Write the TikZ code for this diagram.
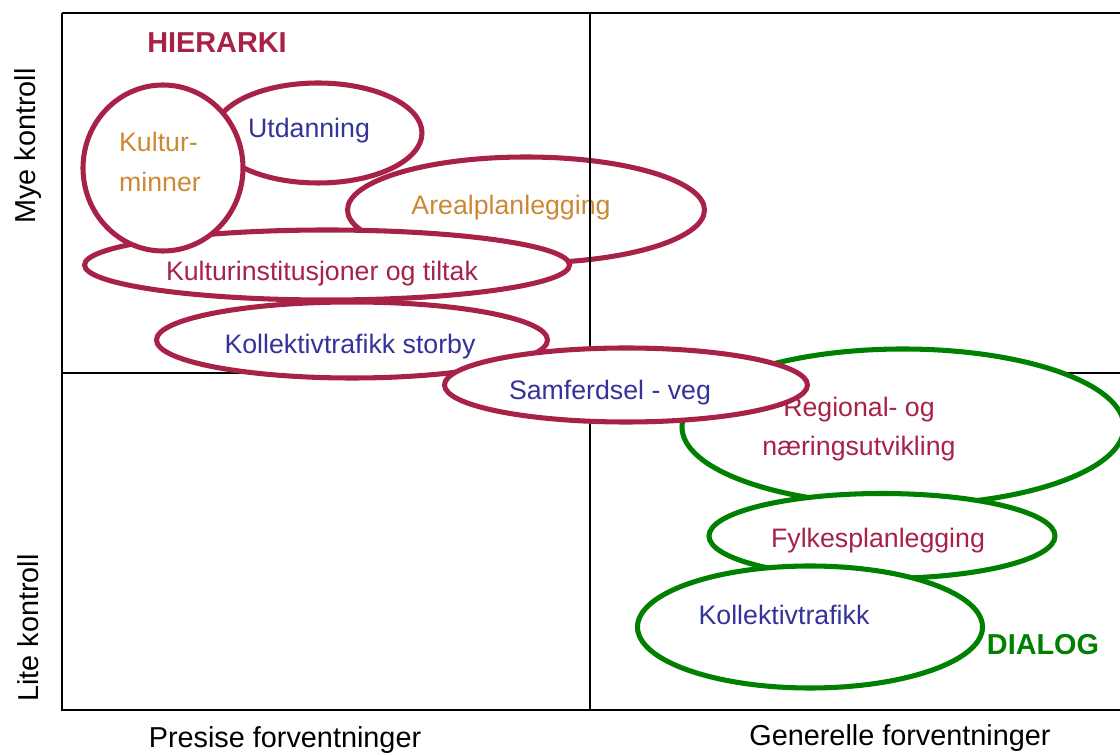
\documentclass[tikz,border=0pt]{standalone}
\usepackage{fontspec}
\setmainfont{Liberation Sans}
\usetikzlibrary{shapes.geometric}

\definecolor{hier}{RGB}{168,34,72}
\definecolor{dial}{RGB}{0,128,0}
\definecolor{blaa}{RGB}{51,51,153}
\definecolor{oransje}{RGB}{204,136,51}
\newcommand{\px}{0.025cm}

\tikzset{
  felt/.style={ellipse, draw, fill=white, line width=3.6pt, inner sep=0pt},
  hfelt/.style={felt, draw=hier},
  dfelt/.style={felt, draw=dial},
  etikett/.style={font=\fontsize{19}{28}\selectfont, inner sep=0pt},
  akse/.style={font=\fontsize{20.5}{24}\selectfont, inner sep=0pt},
  tittel/.style={font=\fontsize{20.5}{24}\selectfont\bfseries, inner sep=0pt},
}

\begin{document}
\begin{tikzpicture}[x=0.025cm, y=-0.025cm]
    \useasboundingbox (0,0) rectangle (1120,753);
    % arealplanlegging ligger under rutenettet
    \node[hfelt, minimum width=357*\px, minimum height=106*\px] (areal) at (526,210) {};
    \node[etikett, text=oransje] (arealtxt) at (511,208) {Arealplanlegging};
    % rutenett
    \draw[line width=2pt] (62,13) -- (1120,13) (62,13) -- (62,710) -- (1120,710)
        (590,13) -- (590,710) (62,373) -- (1120,373);
    % hierarki
    \node[hfelt, minimum width=208*\px, minimum height=100*\px] (utd) at (318,133) {};
    \node[etikett, text=blaa] (utdtxt) at (309,131) {Utdanning};
    \node[hfelt, minimum width=485*\px, minimum height=70*\px] (kinst) at (327,265) {};
    \node[etikett, text=hier] (kinsttxt) at (322,274) {Kulturinstitusjoner og tiltak};
    \node[hfelt, minimum width=160*\px, minimum height=166*\px] (kmin) at (163,168) {};
    \node[etikett, text=oransje, align=left] (kmintxt) at (160,162) {Kultur-\\minner};
    \node[hfelt, minimum width=391*\px, minimum height=76*\px] (storby) at (352,340) {};
    \node[etikett, text=blaa] (storbytxt) at (350,347) {Kollektivtrafikk storby};
    % dialog
    \node[dfelt, minimum width=442*\px, minimum height=156*\px] (reg) at (903,427) {};
    \node[etikett, text=hier, align=center] (regtxt) at (859,429) {Regional- og\\næringsutvikling};
    \node[hfelt, minimum width=363*\px, minimum height=74*\px] (veg) at (626,385) {};
    \node[etikett, text=blaa] (vegtxt) at (610,393) {Samferdsel - veg};
    \node[dfelt, minimum width=346*\px, minimum height=85*\px] (fylke) at (882,536) {};
    \node[etikett, text=hier] (fylketxt) at (878,541) {Fylkesplanlegging};
    \node[dfelt, minimum width=345*\px, minimum height=122*\px] (koll) at (810,627) {};
    \node[etikett, text=blaa] (kolltxt) at (784,615) {Kollektivtrafikk};
    % titler og akser
    \node[tittel, text=hier] (hierarki) at (217,43) {HIERARKI};
    \node[tittel, text=dial] (dialog) at (1043,645) {DIALOG};
    \node[akse, rotate=90] (mye) at (28,146) {Mye kontroll};
    \node[akse, rotate=90] (lite) at (28,628) {Lite kontroll};
    \node[akse] (presise) at (285,740) {Presise forventninger};
    \node[akse] (generelle) at (900,738) {Generelle forventninger};
\end{tikzpicture}
\end{document}
